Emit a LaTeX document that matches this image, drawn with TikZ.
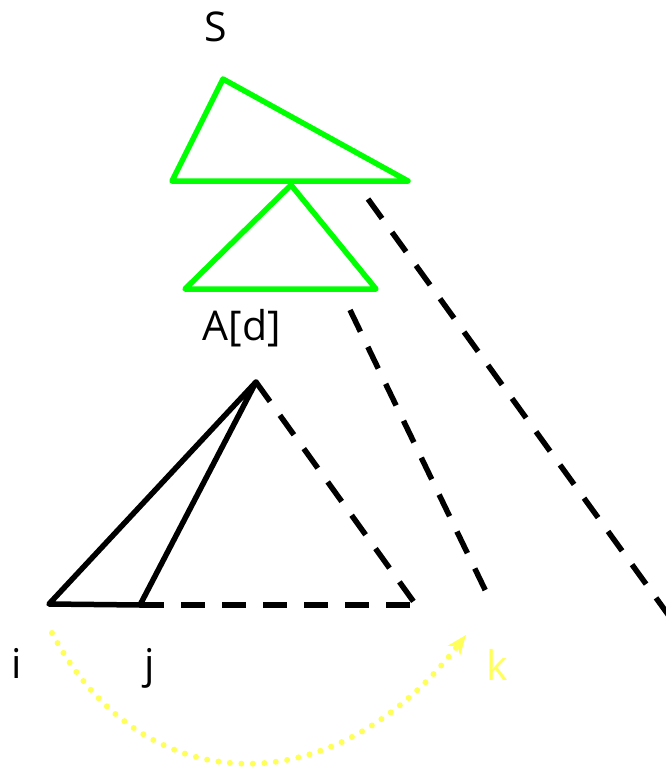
\documentclass[tikz,border=0pt]{standalone}
\usepackage{fontspec}
\setmainfont{Open Sans}
\usetikzlibrary{arrows.meta}
\definecolor{tgreen}{RGB}{0,255,0}
\definecolor{tyellow}{RGB}{255,255,90}
\tikzset{
  gtri/.style={draw=tgreen, line width=5.5pt, line join=round},
  solidedge/.style={draw=black, line width=5.5pt, line join=round, line cap=round},
  dashedge/.style={draw=black, line width=5.5pt, dash pattern=on 24pt off 17pt},
  lbl/.style={font=\fontsize{41}{48}\selectfont, anchor=base, inner sep=0pt},
  dotarrow/.style={draw=tyellow, line width=6pt, line cap=round, dash pattern=on 0pt off 11.5pt,
    -{Stealth[length=20pt, width=16pt, fill=tyellow, line width=0pt]}},
}
\begin{document}
\begin{tikzpicture}[x=1pt, y=-1pt]
  \useasboundingbox (0,0) rectangle (666,768);
  \clip (0,0) rectangle (666,768);
  % green triangles
  \coordinate (st) at (223,79);
  \coordinate (sl) at (172,181);
  \coordinate (sr) at (408,181);
  \coordinate (at) at (291,185);
  \coordinate (al) at (185,289);
  \coordinate (ar) at (376,289);
  \draw[gtri] (st) -- (sr) -- (sl) -- cycle;
  \draw[gtri] (at) -- (ar) -- (al) -- cycle;
  % outer dashed lines
  \coordinate (d1a) at (368,199);
  \coordinate (d1b) at (672,620);
  \coordinate (d2a) at (350,310);
  \coordinate (d2b) at (490,600);
  \draw[dashedge] (d1a) -- (d1b);
  \draw[dashedge] (d2a) -- (d2b);
  % black triangle
  \coordinate (bt) at (256,382);
  \coordinate (bl) at (49,604);
  \coordinate (bj) at (140,605);
  \coordinate (br) at (416,605);
  \draw[dashedge] (bt) -- (br);
  \draw[dashedge] (bj) -- (br);
  \draw[solidedge] (bt) -- (bl) -- (bj) -- cycle;
  % labels
  \node[lbl] (S) at (216,42) {S};
  \node[lbl] (A) at (242,340) {A[d]};
  \node[lbl] (i) at (17,678) {i};
  \node[lbl] (j) at (150,678) {j};
  \node[lbl, text=tyellow] (k) at (497,680) {k};
  % dotted arrow
  \coordinate (ystart) at (52,633);
  \coordinate (yend) at (466,635);
  \draw[dotarrow] (ystart) .. controls (140,800) and (330,810) .. (yend);
\end{tikzpicture}
\end{document}
